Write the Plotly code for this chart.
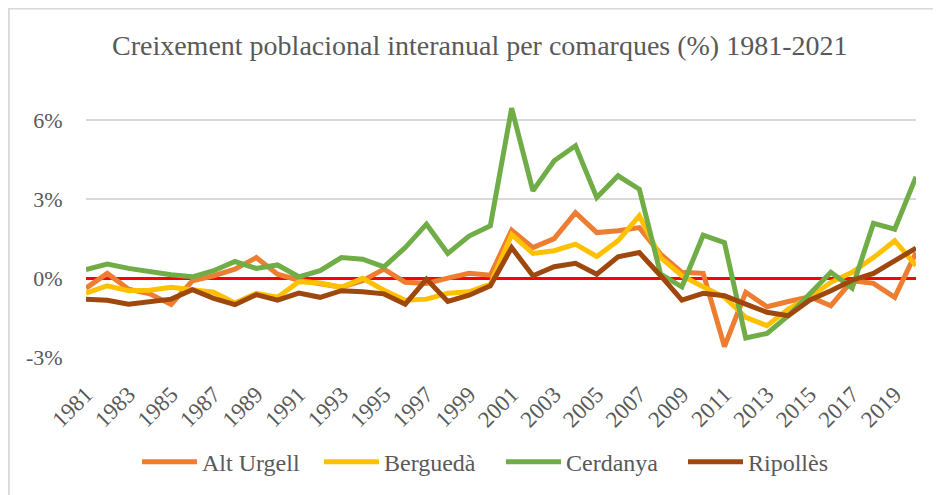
import plotly.graph_objects as go

# Years and annual growth (%) per comarca
years = [str(y) for y in range(1981, 2021)]

alt_urgell = [-0.38, 0.18, -0.42, -0.60, -1.00, -0.10, 0.09, 0.34, 0.78, 0.15,
              -0.08, -0.20, -0.35, -0.10, 0.34, -0.16, -0.20, 0.00, 0.18, 0.11,
              1.82, 1.16, 1.50, 2.49, 1.73, 1.80, 1.92, 0.91, 0.22, 0.18,
              -2.60, -0.54, -1.09, -0.89, -0.71, -1.05, -0.10, -0.20, -0.73, 0.97]
bergueda = [-0.57, -0.29, -0.48, -0.46, -0.35, -0.46, -0.54, -0.95, -0.58, -0.73,
            -0.14, -0.19, -0.35, -0.01, -0.46, -0.84, -0.80, -0.58, -0.52, -0.23,
            1.65, 0.94, 1.04, 1.29, 0.82, 1.42, 2.37, 0.78, 0.09, -0.33,
            -0.73, -1.49, -1.81, -1.18, -0.73, -0.16, 0.22, 0.78, 1.42, 0.47]
cerdanya = [0.32, 0.53, 0.37, 0.24, 0.13, 0.05, 0.28, 0.63, 0.37, 0.50,
            0.05, 0.28, 0.78, 0.72, 0.43, 1.16, 2.05, 0.94, 1.60, 1.99,
            6.46, 3.32, 4.46, 5.03, 3.06, 3.89, 3.38, 0.15, -0.33, 1.63,
            1.35, -2.28, -2.10, -1.43, -0.61, 0.22, -0.38, 2.08, 1.86, 3.85]
ripolles = [-0.80, -0.84, -0.99, -0.90, -0.80, -0.44, -0.77, -1.01, -0.63, -0.84,
            -0.57, -0.73, -0.48, -0.52, -0.60, -0.99, -0.04, -0.89, -0.65, -0.29,
            1.16, 0.09, 0.43, 0.56, 0.15, 0.81, 0.97, 0.09, -0.84, -0.58,
            -0.67, -0.99, -1.30, -1.43, -0.84, -0.48, -0.08, 0.18, 0.66, 1.14]

y_ticks = [-3, 0, 3, 6]
y_labels = ["-3%", "0%", "3%", "6%"]

series = [
    ("Alt Urgell", alt_urgell, "#ED7D31"),
    ("Berguedà", bergueda, "#FFC000"),
    ("Cerdanya", cerdanya, "#70AD47"),
    ("Ripollès", ripolles, "#9E480E"),
]

serif = "Liberation Serif"
grey = "#595959"

fig = go.Figure()
for name, vals, color in series:
    fig.add_trace(go.Scatter(x=years, y=vals, mode="lines", name=name,
                             line=dict(color=color, width=5)))

# page body adds an 8px offset; figure is a bit taller than the window
# so the legend never pushes the bottom margin
fig.update_layout(
    width=925, height=495,
    margin=dict(l=78, r=17, t=86, b=146),
    paper_bgcolor="white", plot_bgcolor="white",
    font=dict(family=serif, color=grey, size=22),
    title=dict(text="Creixement poblacional interanual per comarques (%) 1981-2021",
               x=0.510, xanchor="center", y=1 - 37 / 495, yanchor="middle",
               yref="container", font=dict(family=serif, size=28, color=grey)),
    showlegend=True,
    legend=dict(orientation="h", x=0.5, xanchor="center", y=-0.40, yanchor="middle",
                font=dict(family=serif, size=24, color=grey),
                itemwidth=55, entrywidth=112),
    shapes=[dict(type="rect", xref="paper", yref="paper",
                 x0=-0.093, x1=1.03, y0=-0.6, y1=1.325,
                 line=dict(color="#D9D9D9", width=2), fillcolor="rgba(0,0,0,0)")],
)

fig.update_xaxes(type="category", tickvals=years[::2], tickangle=-45,
                 showgrid=False, showline=False,
                 ticks="outside", ticklen=14, tickcolor="rgba(0,0,0,0)",
                 tickfont=dict(family=serif, size=23, color=grey))
fig.update_yaxes(range=[-3, 7], tickvals=y_ticks, ticktext=y_labels,
                 showgrid=True, gridcolor="#D9D9D9", gridwidth=1.5,
                 zeroline=True, zerolinecolor="#FF0000", zerolinewidth=3,
                 ticks="outside", ticklen=18, tickcolor="rgba(0,0,0,0)",
                 tickfont=dict(family=serif, size=22, color=grey))

fig.write_html("out.html")
